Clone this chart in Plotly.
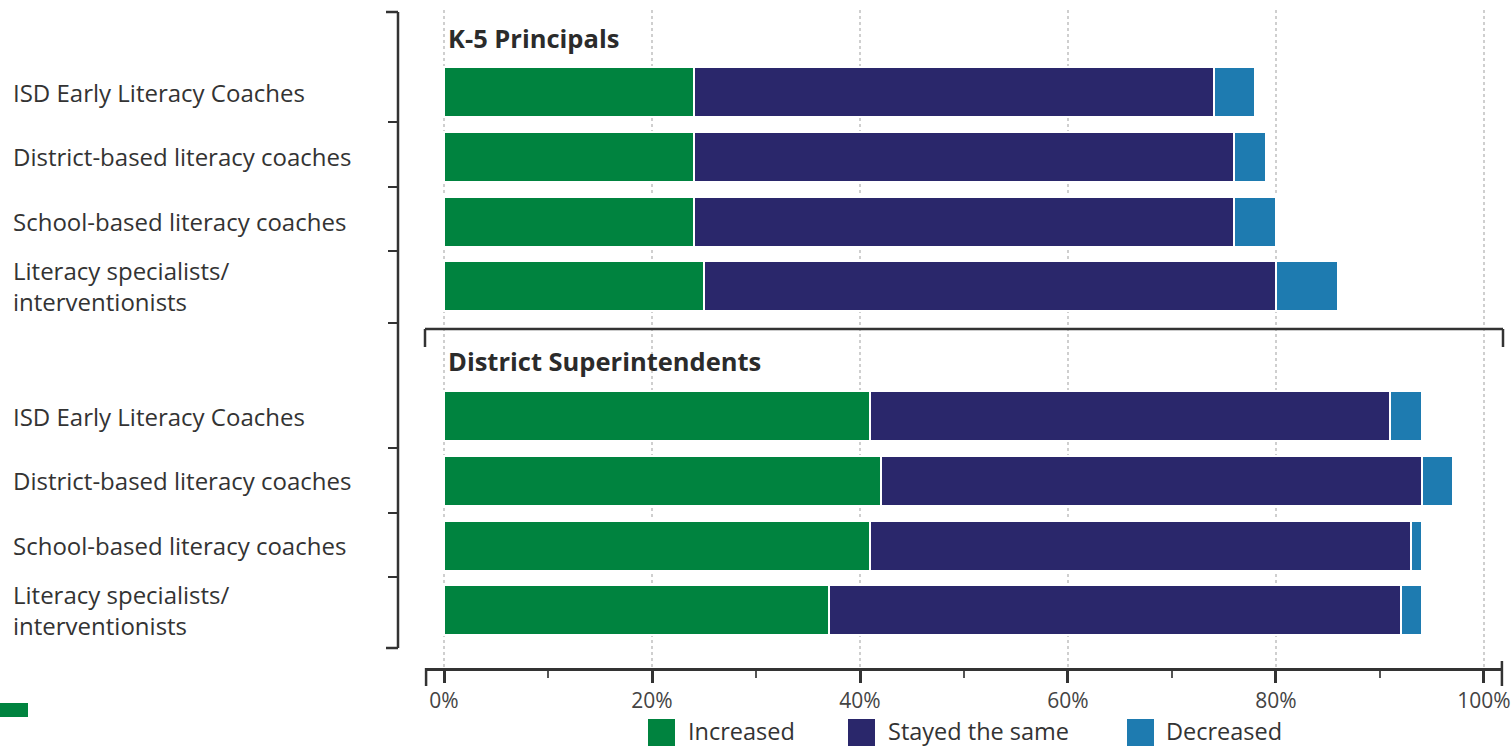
import plotly.graph_objects as go

# ---------------- data ----------------
groups = ["K-5 Principals", "District Superintendents"]
categories = [
    "ISD Early Literacy Coaches",
    "District-based literacy coaches",
    "School-based literacy coaches",
    "Literacy specialists/<br>interventionists",
]
series_names = ["Increased", "Stayed the same", "Decreased"]
series_colors = ["#00833f", "#2a276b", "#1e7bb0"]

k5_increased = [24, 24, 24, 25]
k5_same = [50, 52, 52, 55]
k5_decreased = [4, 3, 4, 6]

sup_increased = [41, 42, 41, 37]
sup_same = [50, 52, 52, 55]
sup_decreased = [3, 3, 1, 2]

tick_vals = [0, 20, 40, 60, 80, 100]
tick_text = ["0%", "20%", "40%", "60%", "80%", "100%"]
minor_vals = [10, 30, 50, 70, 90]

# ---------------- layout helpers ----------------
W, H = 1512, 748
L, R = 425, 1503          # plot area left/right in px
T, B = 10, 668            # plot area top/bottom in px
PW, PH = R - L, B - T
x_range = [-1.83, 101.83]
row1_px, pitch = 92, 64.8
y_top = 1 - (row1_px - T) / pitch
y_bot = 1 + (B - row1_px) / pitch


def ypos(px):
    return 1 + (px - row1_px) / pitch


def px_x(px):
    return (px - L) / PW


def px_y(px):
    return (B - px) / PH


series_by_group = [
    [k5_increased, k5_same, k5_decreased],
    [sup_increased, sup_same, sup_decreased],
]

fig = go.Figure()
for s, (name, color) in enumerate(zip(series_names, series_colors)):
    xs, ys = [], []
    for g in range(len(groups)):
        for i in range(len(categories)):
            xs.append(series_by_group[g][s][i])
            ys.append(g * 5 + i + 1)
    fig.add_trace(go.Bar(
        x=xs, y=ys, orientation="h", name=name, width=0.77,
        marker=dict(color=color, line=dict(color="white", width=2)),
        showlegend=False,
        hovertemplate=name + ": %{x}%<extra></extra>",
    ))

FONT = "Open Sans"
TXT = "#333333"
shapes = []
annotations = []

# category labels
for g in range(len(groups)):
    for i, c in enumerate(categories):
        annotations.append(dict(
            x=px_x(11), xref="paper", y=g * 5 + i + 1, yref="y",
            text=c, showarrow=False, xanchor="left", yanchor="middle",
            align="left", font=dict(family=FONT, size=24, color=TXT),
        ))

# group headers
for g, name, py in [(0, groups[0], 38), (1, groups[1], 361)]:
    annotations.append(dict(
        x=px_x(446), xref="paper", y=ypos(py), yref="y",
        text="<b>" + name + "</b>", showarrow=False, xanchor="left",
        yanchor="middle", font=dict(family=FONT, size=25.5, color="#2b2b2b"),
    ))

LC = "#333333"
# left bracket
bx = px_x(398)
shapes.append(dict(type="line", xref="paper", yref="y", x0=bx, x1=bx,
                   y0=ypos(12), y1=ypos(648), line=dict(color=LC, width=2.5)))
for py in [12, 648]:
    shapes.append(dict(type="line", xref="paper", yref="y", x0=px_x(386), x1=bx,
                       y0=ypos(py), y1=ypos(py), line=dict(color=LC, width=2.5)))
for py in [122, 187, 251, 323, 448, 513, 577]:
    shapes.append(dict(type="line", xref="paper", yref="y", x0=px_x(388), x1=bx,
                       y0=ypos(py), y1=ypos(py), line=dict(color=LC, width=2)))

# superintendents frame
fy = ypos(329)
shapes.append(dict(type="line", xref="paper", yref="y", x0=0, x1=1, y0=fy, y1=fy,
                   line=dict(color=LC, width=2.5)))
for xx in [0, 1]:
    shapes.append(dict(type="line", xref="paper", yref="y", x0=xx, x1=xx,
                       y0=fy, y1=ypos(347), line=dict(color=LC, width=2.5)))

# axis end ticks
shapes.append(dict(type="line", xref="paper", yref="paper", x0=0.001, x1=0.001,
                   y0=0, y1=px_y(686), line=dict(color=LC, width=2.5)))
shapes.append(dict(type="line", xref="paper", yref="paper", x0=0.999, x1=0.999,
                   y0=px_y(661), y1=px_y(686), line=dict(color=LC, width=2.5)))

# custom legend
leg_items = [(648, 686), (848, 886), (1127, 1164)]
for (sx, tx), name, color in zip(leg_items, series_names, series_colors):
    shapes.append(dict(type="rect", xref="paper", yref="paper",
                       x0=px_x(sx), x1=px_x(sx + 27), y0=px_y(719), y1=px_y(746),
                       fillcolor=color, line=dict(width=0)))
    annotations.append(dict(
        x=px_x(tx), xref="paper", y=px_y(731), yref="paper", text=name,
        showarrow=False, xanchor="left", yanchor="middle",
        font=dict(family=FONT, size=23.5, color=TXT),
    ))

# page fragment at bottom left
shapes.append(dict(type="rect", xref="paper", yref="paper",
                   x0=px_x(0), x1=px_x(28), y0=px_y(717), y1=px_y(703),
                   fillcolor="#00833f", line=dict(width=0)))

fig.update_layout(
    width=W, height=H,
    margin=dict(l=L, r=W - R, t=T, b=H - B, pad=0, autoexpand=False),
    paper_bgcolor="white", plot_bgcolor="white",
    barmode="stack", bargap=0,
    showlegend=False,
    shapes=shapes, annotations=annotations,
    xaxis=dict(
        range=x_range, tickmode="array", tickvals=tick_vals, ticktext=tick_text,
        automargin=False,
        showgrid=True, gridcolor="#cfcfcf", griddash="dot", gridwidth=1.5,
        zeroline=False, showline=True, linecolor=LC, linewidth=2.5,
        ticks="outside", ticklen=12, tickwidth=2.5, tickcolor=LC,
        tickfont=dict(family=FONT, size=21, color="#444444"),
        minor=dict(tickvals=minor_vals, ticks="outside", ticklen=7,
                   tickwidth=1.5, tickcolor="#555555", showgrid=False),
        fixedrange=True,
    ),
    yaxis=dict(range=[y_bot, y_top], visible=False, fixedrange=True,
               automargin=False),
)

fig.write_html("out.html")
